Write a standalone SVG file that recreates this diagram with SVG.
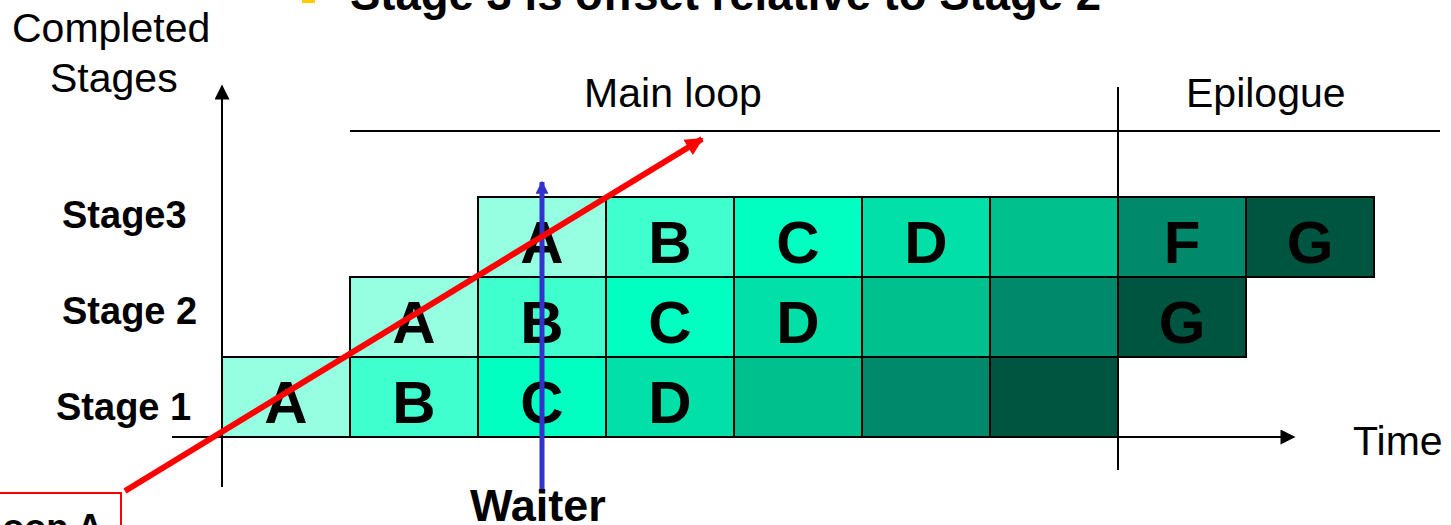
<svg xmlns="http://www.w3.org/2000/svg" width="1451" height="525" viewBox="0 0 1451 525">
<style>
.cell{stroke:#000;stroke-width:2}
.L{font-family:"Liberation Sans",Arial,sans-serif;font-weight:bold;font-size:60px;text-anchor:middle;fill:#000}
.reg{font-family:"Liberation Sans",Arial,sans-serif;font-size:41px;fill:#000}
.bold{font-family:"Liberation Sans",Arial,sans-serif;font-weight:bold;fill:#000}
.cA{fill:#96FFE2}.cB{fill:#40FFCE}.cC{fill:#00FFC0}.cD{fill:#00E0A8}.cE{fill:#00C08E}.cF{fill:#00896A}.cG{fill:#005540}
</style>
<defs>
<marker id="ab" viewBox="0 0 10 10" refX="9" refY="5" markerWidth="16" markerHeight="15" orient="auto" markerUnits="userSpaceOnUse"><path d="M0,0 L10,5 L0,10 z" fill="#000"/></marker>
<marker id="ar" viewBox="0 0 10 10" refX="9" refY="5" markerWidth="22" markerHeight="18" orient="auto" markerUnits="userSpaceOnUse"><path d="M0,0 L10,5 L0,10 z" fill="#FF0000"/></marker>
<marker id="abl" viewBox="0 0 10 10" refX="9" refY="5" markerWidth="15" markerHeight="13" orient="auto" markerUnits="userSpaceOnUse"><path d="M0,0 L10,5 L0,10 z" fill="#3333CC"/></marker>
</defs>
<rect width="1451" height="525" fill="#fff"/>
<!-- title (cut off) -->
<rect x="302" y="-10" width="13" height="13" fill="#FFCC00"/>
<text class="bold" x="350" y="10" font-size="45.5">Stage 3 is offset relative to Stage 2</text>
<!-- axis labels -->
<text class="reg" x="12" y="42">Completed</text>
<text class="reg" x="50" y="92">Stages</text>
<text class="reg" x="673" y="107" text-anchor="middle">Main loop</text>
<text class="reg" x="1186" y="107">Epilogue</text>
<text class="reg" x="1353" y="455">Time</text>
<text class="bold" x="62" y="228" font-size="38">Stage3</text>
<text class="bold" x="62" y="324" font-size="38">Stage 2</text>
<text class="bold" x="56" y="420" font-size="38">Stage 1</text>
<g id="stage1">
<rect class="cell cA" x="222" y="357" width="128" height="80"/>
<rect class="cell cB" x="350" y="357" width="128" height="80"/>
<rect class="cell cC" x="478" y="357" width="128" height="80"/>
<rect class="cell cD" x="606" y="357" width="128" height="80"/>
<rect class="cell cE" x="734" y="357" width="128" height="80"/>
<rect class="cell cF" x="862" y="357" width="128" height="80"/>
<rect class="cell cG" x="990" y="357" width="128" height="80"/>
<text class="L" x="286" y="423">A</text>
<text class="L" x="414" y="423">B</text>
<text class="L" x="542" y="423">C</text>
<text class="L" x="670" y="423">D</text>
</g>
<g id="stage2">
<rect class="cell cA" x="350" y="277" width="128" height="80"/>
<rect class="cell cB" x="478" y="277" width="128" height="80"/>
<rect class="cell cC" x="606" y="277" width="128" height="80"/>
<rect class="cell cD" x="734" y="277" width="128" height="80"/>
<rect class="cell cE" x="862" y="277" width="128" height="80"/>
<rect class="cell cF" x="990" y="277" width="128" height="80"/>
<rect class="cell cG" x="1118" y="277" width="128" height="80"/>
<text class="L" x="414" y="343">A</text>
<text class="L" x="542" y="343">B</text>
<text class="L" x="670" y="343">C</text>
<text class="L" x="798" y="343">D</text>
<text class="L" x="1182" y="343">G</text>
</g>
<g id="stage3">
<rect class="cell cA" x="478" y="197" width="128" height="80"/>
<rect class="cell cB" x="606" y="197" width="128" height="80"/>
<rect class="cell cC" x="734" y="197" width="128" height="80"/>
<rect class="cell cD" x="862" y="197" width="128" height="80"/>
<rect class="cell cE" x="990" y="197" width="128" height="80"/>
<rect class="cell cF" x="1118" y="197" width="128" height="80"/>
<rect class="cell cG" x="1246" y="197" width="128" height="80"/>
<text class="L" x="542" y="263">A</text>
<text class="L" x="670" y="263">B</text>
<text class="L" x="798" y="263">C</text>
<text class="L" x="926" y="263">D</text>
<text class="L" x="1182" y="263">F</text>
<text class="L" x="1310" y="263">G</text>
</g>
<g id="connectors" fill="none">
<line x1="222" y1="487" x2="222" y2="86" stroke="#000" stroke-width="2" marker-end="url(#ab)"/>
<line x1="172" y1="437" x2="1294" y2="437" stroke="#000" stroke-width="2" marker-end="url(#ab)"/>
<line x1="1118" y1="87" x2="1118" y2="470" stroke="#000" stroke-width="2"/>
<line x1="350" y1="131" x2="1440" y2="131" stroke="#000" stroke-width="2"/>
<line x1="542" y1="490" x2="542" y2="182" stroke="#3333CC" stroke-width="5" marker-end="url(#abl)"/>
<line x1="125" y1="491" x2="702" y2="139" stroke="#FF0000" stroke-width="6" marker-end="url(#ar)"/>
</g>
<g id="loopA">
<rect x="-10" y="493" width="131" height="60" fill="none" stroke="#FF0000" stroke-width="2"/>
<text class="bold" x="103" y="540" font-size="36" text-anchor="end">Loop A</text>
</g>
<text class="bold" x="470" y="521" font-size="45">Waiter</text>
</svg>
